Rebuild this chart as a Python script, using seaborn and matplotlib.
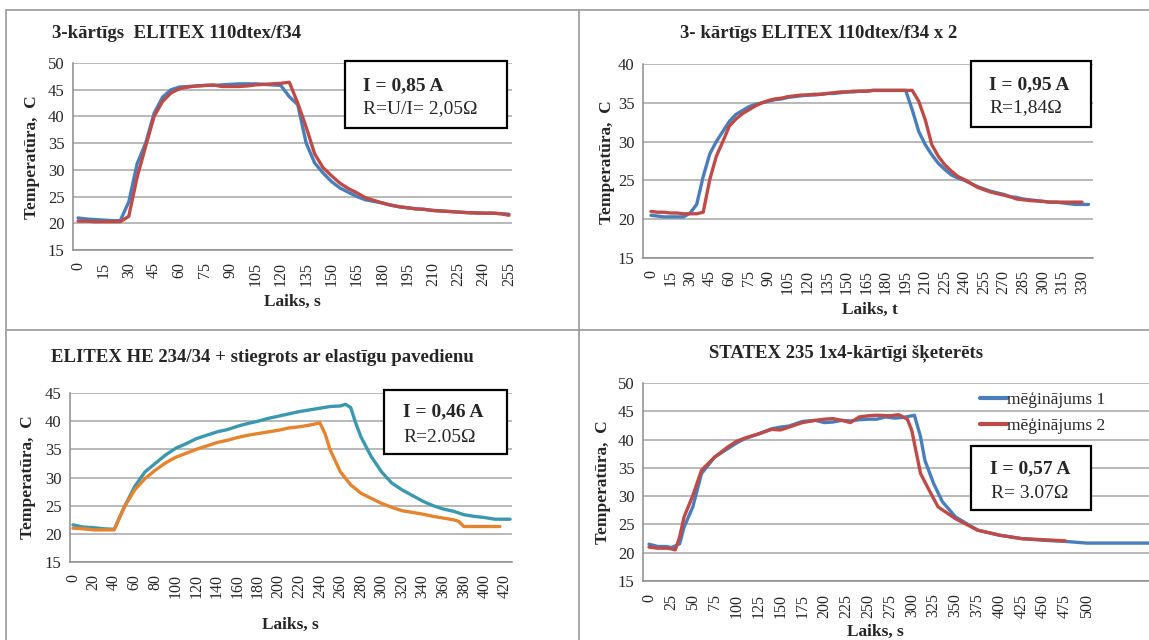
import numpy as np
import pandas as pd
import matplotlib
matplotlib.use("Agg")
import matplotlib.pyplot as plt
from matplotlib.patches import Rectangle
from matplotlib.lines import Line2D
import seaborn as sns

# ---------------- data ----------------
# Panel 1: 3-kārtīgs ELITEX 110dtex/f34
p1_t = list(range(0, 260, 5))
p1_blue = [21.0, 20.8, 20.7, 20.6, 20.5, 20.5, 24.0, 31.2, 35.0, 40.6, 43.6, 45.0, 45.5, 45.6,
           45.7, 45.8, 45.8, 45.9, 46.0, 46.1, 46.1, 46.1, 46.0, 45.9, 45.8, 43.7, 42.2,
           35.0, 31.3, 29.4, 27.8, 26.6, 25.8, 25.0, 24.4, 24.1, 23.8, 23.4, 23.1, 22.9, 22.7,
           22.6, 22.4, 22.3, 22.2, 22.1, 22.0, 22.0, 21.9, 21.9, 21.8, 21.7]
p1_red = [20.4, 20.4, 20.3, 20.3, 20.3, 20.3, 21.3, 28.7, 34.4, 40.0, 42.8, 44.4, 45.2, 45.5,
          45.7, 45.8, 45.9, 45.6, 45.6, 45.6, 45.7, 45.9, 46.0, 46.1, 46.2, 46.4, 42.5, 38.0,
          33.0, 30.4, 28.9, 27.5, 26.5, 25.7, 24.8, 24.3, 23.8, 23.4, 23.1, 22.9, 22.7, 22.6,
          22.4, 22.3, 22.2, 22.1, 22.0, 21.9, 21.9, 21.9, 21.8, 21.5]

# Panel 2: 3- kārtīgs ELITEX 110dtex/f34 x 2
p2_t_blue = list(range(0, 340, 5))
p2_blue = [20.5, 20.4, 20.3, 20.3, 20.3, 20.3, 20.8, 21.9, 25.5, 28.4, 30.0, 31.3, 32.6, 33.5,
           34.0, 34.5, 34.8, 35.0, 35.2, 35.4, 35.5, 35.7, 35.8, 35.9, 36.0, 36.0, 36.1, 36.2,
           36.2, 36.3, 36.4, 36.4, 36.5, 36.5, 36.6, 36.6, 36.6, 36.6, 36.6, 36.6, 34.1, 31.3,
           29.6, 28.3, 27.2, 26.4, 25.7, 25.3, 25.0, 24.6, 24.2, 23.9, 23.6, 23.4, 23.2, 22.9,
           22.8, 22.6, 22.5, 22.4, 22.3, 22.2, 22.2, 22.1, 22.0, 21.9, 21.9, 21.9]
p2_t_red = list(range(0, 335, 5))
p2_red = [21.0, 20.9, 20.9, 20.8, 20.8, 20.7, 20.7, 20.7, 20.9, 25.1, 28.1, 30.0, 32.0, 32.9,
          33.6, 34.1, 34.6, 35.0, 35.3, 35.5, 35.6, 35.8, 35.9, 36.0, 36.0, 36.1, 36.1, 36.2,
          36.3, 36.4, 36.4, 36.5, 36.5, 36.5, 36.6, 36.6, 36.6, 36.6, 36.6, 36.6, 36.6, 35.2,
          32.8, 29.6, 28.1, 27.0, 26.2, 25.5, 25.1, 24.6, 24.1, 23.8, 23.5, 23.3, 23.1, 22.9,
          22.6, 22.5, 22.4, 22.35, 22.3, 22.2, 22.2, 22.2, 22.2, 22.2, 22.2]

# Panel 3: ELITEX HE 234/34 + stiegrots ar elastīgu pavedienu
p3_t_teal = [0, 10, 20, 30, 40, 50, 60, 70, 80, 90, 100, 110, 120, 130, 140, 150, 160, 170,
             180, 190, 200, 210, 220, 230, 240, 250, 260, 265, 270, 275, 280, 290, 300, 310,
             320, 330, 340, 350, 360, 370, 380, 390, 400, 410, 420, 425]
p3_teal = [21.6, 21.2, 21.1, 20.9, 20.8, 24.8, 28.4, 31.0, 32.5, 34.0, 35.2, 36.0, 36.9, 37.5,
           38.1, 38.5, 39.1, 39.6, 40.0, 40.5, 40.9, 41.3, 41.7, 42.0, 42.3, 42.6, 42.7, 43.0,
           42.4, 39.6, 37.2, 33.7, 31.0, 29.0, 27.8, 26.8, 25.8, 25.0, 24.4, 24.0, 23.4, 23.1,
           22.9, 22.6, 22.6, 22.6]
p3_t_orange = [0, 10, 20, 30, 40, 50, 60, 70, 80, 90, 100, 110, 120, 130, 140, 150, 160, 170,
               180, 190, 200, 210, 220, 230, 240, 245, 250, 260, 270, 280, 290, 300, 310, 320,
               330, 340, 350, 360, 370, 375, 380, 390, 400, 410, 415]
p3_orange = [21.0, 20.9, 20.7, 20.7, 20.7, 24.8, 27.8, 29.8, 31.3, 32.6, 33.6, 34.3, 35.0,
             35.6, 36.2, 36.6, 37.1, 37.5, 37.8, 38.1, 38.4, 38.8, 39.0, 39.3, 39.7, 37.8,
             34.9, 31.0, 28.7, 27.2, 26.3, 25.4, 24.7, 24.1, 23.8, 23.5, 23.1, 22.8, 22.5,
             22.2, 21.3, 21.3, 21.3, 21.3, 21.3]

# Panel 4: STATEX 235 1x4-kārtīgi šķeterēts
p4_t_blue = [0, 10, 20, 25, 30, 35, 40, 50, 60, 75, 90, 100, 110, 125, 140, 150, 160, 175,
             190, 200, 210, 220, 230, 240, 250, 260, 270, 280, 290, 300, 303, 310, 315, 325,
             335, 350, 375, 400, 425, 450, 475, 500, 525, 575]
p4_blue = [21.5, 21.1, 21.1, 20.9, 21.2, 21.6, 24.5, 28.1, 34.0, 36.9, 38.4, 39.4, 40.2,
           41.0, 41.9, 42.2, 42.4, 43.2, 43.4, 43.0, 43.1, 43.4, 43.3, 43.5, 43.6, 43.6,
           44.0, 43.8, 43.9, 44.2, 44.3, 40.5, 36.3, 32.2, 29.0, 26.3, 24.0, 23.1, 22.5,
           22.2, 22.0, 21.7, 21.7, 21.7]
p4_t_red = [0, 10, 20, 25, 30, 35, 40, 50, 60, 75, 90, 100, 110, 125, 140, 150, 160, 175,
            190, 200, 210, 220, 230, 240, 250, 260, 275, 285, 295, 300, 310, 320, 330, 350,
            375, 400, 425, 450, 475]
p4_red = [21.0, 20.8, 20.8, 20.7, 20.5, 22.8, 26.3, 30.1, 34.6, 36.9, 38.7, 39.7, 40.3, 41.0,
          41.8, 41.7, 42.2, 43.0, 43.4, 43.6, 43.7, 43.4, 43.0, 44.0, 44.2, 44.3, 44.2, 44.4,
          43.6, 41.6, 34.0, 31.0, 28.1, 26.0, 24.0, 23.1, 22.5, 22.3, 22.1]

titles = ["3-kārtīgs  ELITEX 110dtex/f34", "3- kārtīgs ELITEX 110dtex/f34 x 2",
          "ELITEX HE 234/34 + stiegrots ar elastīgu pavedienu", "STATEX 235 1x4-kārtīgi šķeterēts"]
xlabels = ["Laiks, s", "Laiks, t", "Laiks, s", "Laiks, s"]
ylabel = "Temperatūra,  C"
box_line1 = ["I = 0,85 A", "I = 0,95 A", "I = 0,46 A", "I = 0,57 A"]
box_line2 = ["R=U/I= 2,05Ω", "R=1,84Ω", "R=2.05Ω", "R= 3.07Ω"]
legend_labels = ["mēģinājums 1", "mēģinājums 2"]

# ---------------- style ----------------
sns.set_style("white")
plt.rcParams["font.family"] = ["Liberation Serif", "DejaVu Serif"]

W, H = 1149, 640
fig = plt.figure(figsize=(W / 100, H / 100), dpi=100)
fig.patch.set_facecolor("white")

def fx(px):
    return px / W

def fy(py):
    return 1 - py / H

def make_ax(l, r, t, b):
    return fig.add_axes([fx(l), fy(b), fx(r - l), (b - t) / H])

BLUE, RED = "#4A7EBB", "#BE4B48"
TEAL, ORANGE = "#3C98AE", "#E6832F"
GRID = "#a6a6a6"

panels = [
    dict(rect=(73, 512, 63, 250), xlim=(-3.0, 256.8), ylim=(15, 50), xt=np.arange(0, 256, 15),
         series=[(p1_t, p1_blue, legend_labels[0]), (p1_t, p1_red, legend_labels[1])],
         colors=[BLUE, RED]),
    dict(rect=(643, 1093, 64, 258), xlim=(-6.1, 338.4), ylim=(15, 40), xt=np.arange(0, 331, 15),
         series=[(p2_t_blue, p2_blue, legend_labels[0]), (p2_t_red, p2_red, legend_labels[1])],
         colors=[BLUE, RED]),
    dict(rect=(70, 512, 393, 562), xlim=(-2.9, 426.8), ylim=(15, 45), xt=np.arange(0, 421, 20),
         series=[(p3_t_teal, p3_teal, legend_labels[0]), (p3_t_orange, p3_orange, legend_labels[1])],
         colors=[TEAL, ORANGE]),
    dict(rect=(643, 1149, 383, 581), xlim=(-6.85, 570.8), ylim=(15, 50), xt=np.arange(0, 501, 25),
         series=[(p4_t_blue, p4_blue, legend_labels[0]), (p4_t_red, p4_red, legend_labels[1])],
         colors=[BLUE, RED]),
]

axes = []
for i, p in enumerate(panels):
    ax = make_ax(*p["rect"])
    frames = []
    for (tt, vv, lab) in p["series"]:
        frames.append(pd.DataFrame({"t": tt, "T": vv, "series": lab}))
    df = pd.concat(frames, ignore_index=True)
    sns.lineplot(data=df, x="t", y="T", hue="series", palette=p["colors"], ax=ax,
                 linewidth=2.4, estimator=None, sort=False, legend=(i == 3))
    ax.set_xlim(*p["xlim"])
    ax.set_ylim(*p["ylim"])
    ax.set_yticks(np.arange(p["ylim"][0], p["ylim"][1] + 0.1, 5))
    ax.set_xticks(p["xt"])
    ax.set_xticklabels([str(v) for v in p["xt"]], rotation=90)
    ax.set_xlabel("")
    ax.set_ylabel("")
    ax.grid(axis="y", color=GRID, linewidth=1.1)
    ax.grid(axis="x", visible=False)
    ax.set_axisbelow(True)
    for s in ["top", "right"]:
        ax.spines[s].set_visible(False)
    for s in ["left", "bottom"]:
        ax.spines[s].set_color("#8c8c8c")
        ax.spines[s].set_linewidth(1.1)
    ax.tick_params(axis="y", length=4, color="#8c8c8c", width=1.0, pad=2, labelsize=12)
    ax.tick_params(axis="x", length=0, pad=9, labelsize=11.5)
    ax.patch.set_alpha(0)
    axes.append(ax)

# legend (panel 4)
leg = axes[3].legend(loc="center left", bbox_to_anchor=(fx(971), fy(413)),
                     bbox_transform=fig.transFigure, frameon=False, fontsize=12.5,
                     handlelength=1.55, handletextpad=0.0, labelspacing=0.55, borderpad=0)
for h in leg.get_lines():
    h.set_linewidth(3.0)

# titles
title_pos = [(177, 33), (819, 33), (262, 358), (846, 353)]
for t, (x, y) in zip(titles, title_pos):
    fig.text(fx(x), fy(y), t, ha="center", va="center", fontsize=13.5, fontweight="bold")

# axis labels
xl_pos = [(292, 302), (870, 310), (290, 625), (875, 632)]
for t, (x, y) in zip(xlabels, xl_pos):
    fig.text(fx(x), fy(y), t, ha="center", va="center", fontsize=12.5, fontweight="bold")
yl_pos = [(32, 157), (607, 162), (28, 477), (603, 482)]
for (x, y) in yl_pos:
    fig.text(fx(x), fy(y), ylabel, ha="center", va="center", rotation=90,
             fontsize=12.5, fontweight="bold")

# annotation boxes
boxes = [
    dict(r=(345, 507, 61, 128), tx=363, y1=86, y2=109, ha="left"),
    dict(r=(971, 1091, 61, 127), tx=989, y1=85, y2=108, ha="left"),
    dict(r=(384, 507, 390, 454), tx=403, y1=412, y2=437, ha="left"),
    dict(r=(971, 1091, 446, 510), tx=1030, y1=469, y2=493, ha="center"),
]
for b, l1, l2 in zip(boxes, box_line1, box_line2):
    l, r, t, bt = b["r"]
    fig.patches.append(Rectangle((fx(l), fy(bt)), fx(r - l), (bt - t) / H,
                                 transform=fig.transFigure, facecolor="white",
                                 edgecolor="black", linewidth=1.6, zorder=5))
    fig.text(fx(b["tx"]), fy(b["y1"]), l1, ha=b["ha"], va="center", fontsize=14,
             fontweight="bold", zorder=6)
    fig.text(fx(b["tx"]), fy(b["y2"]), l2, ha=b["ha"], va="center", fontsize=14, zorder=6)

# panel frame lines
fc = "#a0a0a0"
frame_lines = [((6, 6), (10, 640)), ((6, 1149), (10, 10)), ((579, 579), (10, 640)),
               ((6, 1149), (330, 330))]
for xs, ys in frame_lines:
    fig.add_artist(Line2D([fx(xs[0]), fx(xs[1])], [fy(ys[0]), fy(ys[1])],
                          transform=fig.transFigure, color=fc, linewidth=1.3))

fig.savefig("out.png", dpi=100)
